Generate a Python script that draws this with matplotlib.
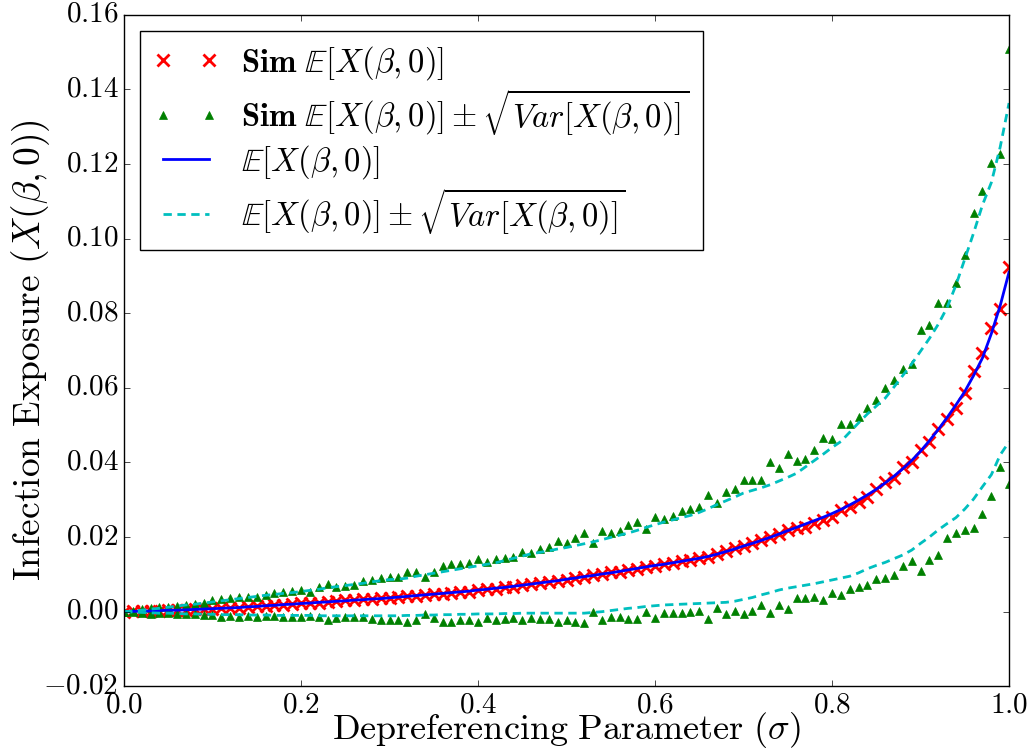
import numpy as np
import matplotlib
matplotlib.use('Agg')
import matplotlib.pyplot as plt
from matplotlib.ticker import FuncFormatter

# depreferencing parameter grid (step 0.01)
sigma = np.linspace(0.0, 1.0, 101)

# simulated mean
sim_mean = [
    0.0000, 0.0001, 0.0001, 0.0003, 0.0003, 0.0004, 0.0005, 0.0005, 0.0007, 0.0008,
    0.0008, 0.0009, 0.0011, 0.0011, 0.0013, 0.0015, 0.0016, 0.0018, 0.0019, 0.0020,
    0.0022, 0.0024, 0.0024, 0.0026, 0.0028, 0.0030, 0.0030, 0.0033, 0.0034, 0.0036,
    0.0037, 0.0038, 0.0041, 0.0042, 0.0044, 0.0047, 0.0048, 0.0051, 0.0053, 0.0054,
    0.0057, 0.0060, 0.0062, 0.0066, 0.0067, 0.0071, 0.0073, 0.0077, 0.0079, 0.0083,
    0.0086, 0.0090, 0.0093, 0.0098, 0.0100, 0.0105, 0.0107, 0.0113, 0.0115, 0.0120,
    0.0123, 0.0128, 0.0130, 0.0135, 0.0138, 0.0143, 0.0147, 0.0155, 0.0163, 0.0170,
    0.0176, 0.0183, 0.0192, 0.0201, 0.0208, 0.0219, 0.0225, 0.0228, 0.0238, 0.0246,
    0.0255, 0.0273, 0.0281, 0.0295, 0.0308, 0.0328, 0.0348, 0.0357, 0.0387, 0.0402,
    0.0433, 0.0455, 0.0489, 0.0516, 0.0545, 0.0587, 0.0645, 0.0694, 0.0760, 0.0810,
    0.0924]

# simulated mean + sd
sim_upper = [
    0.0000, 0.0003, 0.0006, 0.0011, 0.0012, 0.0012, 0.0016, 0.0018, 0.0021, 0.0024,
    0.0031, 0.0034, 0.0036, 0.0040, 0.0040, 0.0040, 0.0045, 0.0049, 0.0054, 0.0056,
    0.0058, 0.0054, 0.0065, 0.0074, 0.0067, 0.0069, 0.0071, 0.0082, 0.0085, 0.0091,
    0.0093, 0.0093, 0.0105, 0.0107, 0.0094, 0.0106, 0.0123, 0.0128, 0.0128, 0.0130,
    0.0140, 0.0134, 0.0141, 0.0145, 0.0146, 0.0161, 0.0158, 0.0169, 0.0172, 0.0190,
    0.0185, 0.0197, 0.0210, 0.0183, 0.0215, 0.0210, 0.0217, 0.0231, 0.0239, 0.0221,
    0.0255, 0.0248, 0.0256, 0.0271, 0.0274, 0.0281, 0.0313, 0.0292, 0.0320, 0.0328,
    0.0353, 0.0353, 0.0353, 0.0400, 0.0384, 0.0423, 0.0404, 0.0410, 0.0434, 0.0465,
    0.0462, 0.0502, 0.0502, 0.0523, 0.0546, 0.0567, 0.0600, 0.0621, 0.0649, 0.0663,
    0.0755, 0.0768, 0.0828, 0.0828, 0.0880, 0.0956, 0.1068, 0.1127, 0.1201, 0.1226,
    0.1507]

# simulated mean - sd
sim_lower = [
    0.0000, -0.0001, -0.0004, -0.0006, -0.0004, -0.0004, -0.0006, -0.0006, -0.0006, -0.0009,
    -0.0009, -0.0013, -0.0012, -0.0015, -0.0012, -0.0013, -0.0012, -0.0012, -0.0015, -0.0015,
    -0.0013, -0.0012, -0.0015, -0.0022, -0.0018, -0.0013, -0.0015, -0.0013, -0.0020, -0.0022,
    -0.0022, -0.0022, -0.0027, -0.0022, -0.0007, -0.0016, -0.0027, -0.0027, -0.0022, -0.0022,
    -0.0027, -0.0018, -0.0022, -0.0020, -0.0016, -0.0022, -0.0018, -0.0020, -0.0020, -0.0027,
    -0.0022, -0.0027, -0.0031, -0.0002, -0.0022, -0.0015, -0.0013, -0.0020, -0.0020, 0.0000,
    -0.0018, -0.0004, -0.0004, -0.0004, -0.0002, 0.0002, -0.0020, 0.0009, -0.0006, 0.0003,
    -0.0006, 0.0003, 0.0018, -0.0004, 0.0018, 0.0006, 0.0036, 0.0036, 0.0039, 0.0030,
    0.0049, 0.0045, 0.0060, 0.0065, 0.0072, 0.0087, 0.0089, 0.0098, 0.0122, 0.0136,
    0.0109, 0.0138, 0.0151, 0.0198, 0.0210, 0.0218, 0.0224, 0.0261, 0.0311, 0.0387,
    0.0342]

# analytic mean
theory_mean = [
    0.0000, 0.0001, 0.0001, 0.0002, 0.0003, 0.0004, 0.0004, 0.0005, 0.0006, 0.0007,
    0.0008, 0.0009, 0.0010, 0.0011, 0.0013, 0.0014, 0.0016, 0.0017, 0.0019, 0.0020,
    0.0022, 0.0023, 0.0025, 0.0026, 0.0028, 0.0029, 0.0031, 0.0032, 0.0034, 0.0035,
    0.0037, 0.0039, 0.0041, 0.0043, 0.0045, 0.0047, 0.0049, 0.0051, 0.0053, 0.0055,
    0.0058, 0.0060, 0.0063, 0.0065, 0.0068, 0.0071, 0.0074, 0.0077, 0.0080, 0.0083,
    0.0087, 0.0090, 0.0094, 0.0097, 0.0101, 0.0104, 0.0108, 0.0112, 0.0116, 0.0120,
    0.0124, 0.0127, 0.0131, 0.0135, 0.0139, 0.0143, 0.0148, 0.0154, 0.0161, 0.0168,
    0.0176, 0.0183, 0.0191, 0.0199, 0.0208, 0.0217, 0.0226, 0.0235, 0.0244, 0.0253,
    0.0263, 0.0274, 0.0286, 0.0299, 0.0313, 0.0328, 0.0345, 0.0363, 0.0383, 0.0405,
    0.0430, 0.0458, 0.0488, 0.0520, 0.0554, 0.0590, 0.0633, 0.0680, 0.0745, 0.0820,
    0.0910]

# analytic mean + sd
theory_upper = [
    0.0000, 0.0002, 0.0004, 0.0007, 0.0009, 0.0012, 0.0015, 0.0018, 0.0020, 0.0023,
    0.0026, 0.0029, 0.0032, 0.0035, 0.0038, 0.0041, 0.0044, 0.0046, 0.0049, 0.0051,
    0.0054, 0.0057, 0.0060, 0.0064, 0.0067, 0.0070, 0.0073, 0.0076, 0.0080, 0.0083,
    0.0086, 0.0087, 0.0090, 0.0095, 0.0099, 0.0103, 0.0107, 0.0111, 0.0115, 0.0119,
    0.0123, 0.0127, 0.0131, 0.0137, 0.0143, 0.0149, 0.0155, 0.0159, 0.0163, 0.0168,
    0.0172, 0.0177, 0.0182, 0.0187, 0.0193, 0.0199, 0.0205, 0.0211, 0.0218, 0.0226,
    0.0233, 0.0240, 0.0246, 0.0252, 0.0258, 0.0266, 0.0276, 0.0287, 0.0297, 0.0307,
    0.0318, 0.0325, 0.0332, 0.0340, 0.0350, 0.0360, 0.0371, 0.0388, 0.0405, 0.0422,
    0.0440, 0.0456, 0.0481, 0.0506, 0.0530, 0.0551, 0.0572, 0.0602, 0.0633, 0.0664,
    0.0698, 0.0732, 0.0770, 0.0815, 0.0875, 0.0945, 0.1015, 0.1090, 0.1150, 0.1245,
    0.1363]

# analytic mean - sd
theory_lower = [
    0.0000, -0.0001, -0.0002, -0.0003, -0.0004, -0.0004, -0.0005, -0.0006, -0.0006, -0.0007,
    -0.0007, -0.0008, -0.0008, -0.0008, -0.0009, -0.0009, -0.0009, -0.0010, -0.0010, -0.0010,
    -0.0010, -0.0010, -0.0011, -0.0011, -0.0011, -0.0011, -0.0011, -0.0011, -0.0011, -0.0011,
    -0.0011, -0.0011, -0.0010, -0.0010, -0.0009, -0.0009, -0.0008, -0.0008, -0.0007, -0.0007,
    -0.0006, -0.0006, -0.0006, -0.0005, -0.0005, -0.0004, -0.0004, -0.0004, -0.0004, -0.0004,
    -0.0004, -0.0004, -0.0004, -0.0002, 0.0000, 0.0003, 0.0006, 0.0009, 0.0011, 0.0014,
    0.0016, 0.0018, 0.0019, 0.0020, 0.0021, 0.0022, 0.0023, 0.0024, 0.0025, 0.0028,
    0.0033, 0.0038, 0.0045, 0.0051, 0.0058, 0.0063, 0.0067, 0.0071, 0.0075, 0.0080,
    0.0085, 0.0090, 0.0095, 0.0104, 0.0115, 0.0124, 0.0132, 0.0142, 0.0152, 0.0165,
    0.0183, 0.0200, 0.0219, 0.0236, 0.0252, 0.0275, 0.0302, 0.0335, 0.0367, 0.0420,
    0.0455]

plt.style.use('classic')
plt.rcParams['mathtext.fontset'] = 'cm'
plt.rcParams['font.family'] = 'serif'
plt.rcParams['font.serif'] = ['cmr10', 'DejaVu Serif']
plt.rcParams['axes.formatter.use_mathtext'] = True

fig = plt.figure(figsize=(10.29, 7.49), dpi=100, facecolor='white')
ax = fig.add_axes([0.1205, 0.0837, 0.8601, 0.8968])

ax.plot(sigma, sim_mean, 'rx', ms=8.5, mew=2,
        label=r'$\mathbf{Sim}\ \mathbb{E}[X(\beta,0)]$')
ax.plot(sigma, sim_upper, 'g^', ms=5.5, mec='g',
        label=r'$\mathbf{Sim}\ \mathbb{E}[X(\beta,0)] \pm \sqrt{Var[X(\beta,0)]}$')
ax.plot(sigma, sim_lower, 'g^', ms=5.5, mec='g')
ax.plot(sigma, theory_mean, 'b-', lw=2, label=r'$\mathbb{E}[X(\beta,0)]$')
ax.plot(sigma, theory_upper, 'c--', lw=2, dashes=(6, 4),
        label=r'$\mathbb{E}[X(\beta,0)] \pm \sqrt{Var[X(\beta,0)]}$')
ax.plot(sigma, theory_lower, 'c--', lw=2, dashes=(6, 4))

ax.set_xlim(0.0, 1.0)
ax.set_ylim(-0.02, 0.16)
ax.set_xticks([0.0, 0.2, 0.4, 0.6, 0.8, 1.0])
ax.set_yticks(np.arange(-0.02, 0.161, 0.02))
ax.xaxis.set_major_formatter(FuncFormatter(lambda v, p: r'$%.1f$' % v))
ax.yaxis.set_major_formatter(FuncFormatter(lambda v, p: r'$%.2f$' % (v + 0.0)))
ax.tick_params(labelsize=21)

# x label sits on a fixed baseline just under the tick labels
ax.set_xlabel(r'$\mathrm{Depreferencing\ Parameter\ }(\sigma)$', fontsize=26,
              va='baseline')
ax.xaxis.set_label_coords(0.5, -0.078)
ax.set_ylabel(r'$\mathrm{Infection\ Exposure\ }(X(\beta,0))$', fontsize=27,
              labelpad=-6)

ax.legend(loc='upper left', fontsize=23.5, numpoints=2, labelspacing=0.15,
          handlelength=2.0, handletextpad=0.7, borderpad=0.4)

fig.savefig('out.png', dpi=100, facecolor='white')
